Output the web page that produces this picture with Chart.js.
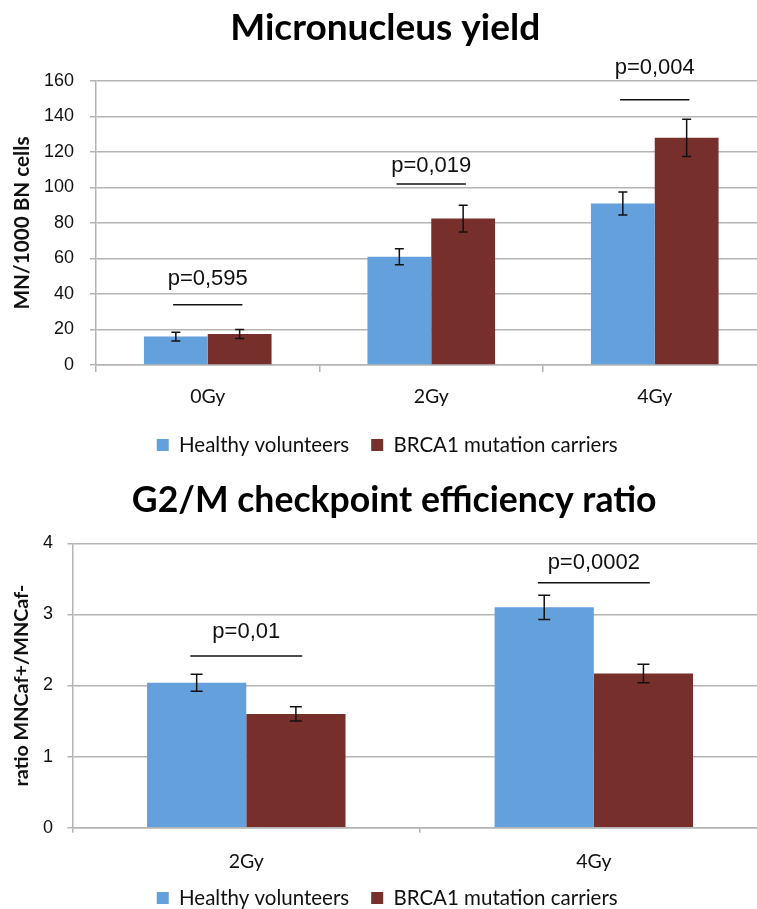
<!DOCTYPE html>
<html><head><meta charset="utf-8">
<script src="https://cdn.jsdelivr.net/npm/chart.js@4.4.0/dist/chart.umd.min.js"></script>
<style>
html,body{margin:0;padding:0;background:#fff;overflow:hidden;width:757px;height:909px;position:relative;}
#c1{position:absolute;left:0;top:0;}
#c2{position:absolute;left:0;top:470px;}
</style></head><body>
<canvas id="c1" width="770" height="470"></canvas>
<canvas id="c2" width="770" height="456"></canvas>
<script>
// ---- data ----
const seriesNames = ['Healthy volunteers', 'BRCA1 mutation carriers'];

const mnTitle = 'Micronucleus yield';
const mnAxisTitle = 'MN/1000 BN cells';
const mnCategories = ['0Gy', '2Gy', '4Gy'];
const mnHealthy = [16, 61, 91];
const mnHealthyErr = [2.5, 4.5, 6.5];
const mnBrca = [17.5, 82.5, 128];
const mnBrcaErr = [2.5, 7.5, 10.5];
const mnPLabels = ['p=0,595', 'p=0,019', 'p=0,004'];
const mnPLine = [34, 102, 149.5];
const mnPText = [45, 108.5, 164];
const mnTickMax = 160;
const mnTickStep = 20;

const g2Title = 'G2/M checkpoint efficiency ratio';
const g2AxisTitle = 'ratio MNCaf+/MNCaf-';
const g2Categories = ['2Gy', '4Gy'];
const g2Healthy = [2.04, 3.1];
const g2HealthyErr = [0.12, 0.17];
const g2Brca = [1.6, 2.17];
const g2BrcaErr = [0.1, 0.13];
const g2PLabels = ['p=0,01', 'p=0,0002'];
const g2PLine = [2.415, 3.446];
const g2PText = [2.664, 3.634];
const g2TickMax = 4;
const g2TickStep = 1;

const colors = ['#64a0dc', '#772f2c'];
const gridColor = '#b4b4b4';
const calibri = 'Lato, "Open Sans", sans-serif';
const arial = '"Liberation Sans", Arial, sans-serif';

const annotate = {
  id: 'annotate',
  afterDatasetsDraw(chart, args, opts) {
    const ctx = chart.ctx;
    const xs = chart.scales.x, ys = chart.scales.y;
    ctx.save();
    ctx.strokeStyle = '#111';
    ctx.lineWidth = 1.5;
    chart.data.datasets.forEach((ds, di) => {
      const meta = chart.getDatasetMeta(di);
      meta.data.forEach((bar, i) => {
        const v = ds.data[i], e = ds.errors[i];
        const yt = ys.getPixelForValue(v + e), yb = ys.getPixelForValue(v - e);
        ctx.beginPath();
        ctx.moveTo(bar.x, yt); ctx.lineTo(bar.x, yb);
        ctx.moveTo(bar.x - opts.cap, yt); ctx.lineTo(bar.x + opts.cap, yt);
        ctx.moveTo(bar.x - opts.cap, yb); ctx.lineTo(bar.x + opts.cap, yb);
        ctx.stroke();
      });
    });
    const catW = xs.width / chart.data.labels.length;
    ctx.fillStyle = '#111';
    ctx.font = opts.font;
    ctx.textAlign = 'center';
    ctx.textBaseline = 'alphabetic';
    opts.labels.forEach((t, i) => {
      const cx = xs.getPixelForValue(i);
      const ly = ys.getPixelForValue(opts.line[i]);
      const hw = opts.halfFrac * catW;
      ctx.beginPath();
      ctx.moveTo(cx - hw, ly); ctx.lineTo(cx + hw, ly);
      ctx.stroke();
      ctx.fillText(t, cx, ys.getPixelForValue(opts.text[i]));
    });
    ctx.restore();
  }
};

const boxShift = {
  id: 'boxShift',
  afterLayout(chart, args, opts) {
    if (chart.legend && opts.legendDy) {
      chart.legend.top += opts.legendDy;
      chart.legend.bottom += opts.legendDy;
    }
    if (chart.titleBlock && opts.titleDx) {
      chart.titleBlock.left += opts.titleDx;
      chart.titleBlock.right += opts.titleDx;
    }
  }
};

function makeChart(id, cfg) {
  return new Chart(document.getElementById(id), {
    type: 'bar',
    data: {
      labels: cfg.categories,
      datasets: [
        { label: seriesNames[0], data: cfg.healthy, errors: cfg.healthyErr, backgroundColor: colors[0],
          categoryPercentage: 0.571, barPercentage: 1.0 },
        { label: seriesNames[1], data: cfg.brca, errors: cfg.brcaErr, backgroundColor: colors[1],
          categoryPercentage: 0.571, barPercentage: 1.0 }
      ]
    },
    options: {
      responsive: false,
      animation: false,
      devicePixelRatio: 1,
      layout: { padding: cfg.pad },
      plugins: {
        title: { display: true, text: cfg.title, color: '#000',
          font: { family: calibri, weight: 'bold', size: cfg.titleSize, lineHeight: 1.2 },
          padding: cfg.titlePad },
        legend: { position: 'bottom',
          labels: { boxWidth: 12, boxHeight: 12, padding: 22, color: '#111',
            font: { family: calibri, size: 20.5, lineHeight: 1.2 } } },
        tooltip: { enabled: false },
        boxShift: { legendDy: cfg.legendDy, titleDx: cfg.titleDx },
        annotate: { labels: cfg.pLabels, line: cfg.pLine, text: cfg.pText, halfFrac: cfg.halfFrac,
          cap: cfg.cap, font: '22px "Liberation Sans", Arial, sans-serif' }
      },
      scales: {
        x: {
          offset: true,
          grid: { display: true, drawOnChartArea: false, drawTicks: true, tickLength: cfg.xTick,
            color: gridColor, lineWidth: 1.5 },
          border: { display: true, color: gridColor, width: 1.5 },
          ticks: { color: '#111', padding: cfg.xPad, font: { family: calibri, size: 19.5, lineHeight: 1.2 } },
          afterFit: (s) => { s.height = cfg.xHeight; }
        },
        y: {
          min: 0, max: cfg.tickMax,
          grid: { color: gridColor, lineWidth: 1.5, drawTicks: true, tickLength: cfg.yTick },
          border: { display: true, color: gridColor, width: 1.5 },
          ticks: { stepSize: cfg.tickStep, color: '#111', padding: cfg.yPad,
            font: { family: arial, size: 18, lineHeight: 1.2 } },
          title: { display: true, text: cfg.axisTitle, color: '#111',
            font: { family: calibri, weight: 'bold', size: cfg.yTitleSize, lineHeight: 1.2 },
            padding: { top: cfg.yTitlePad, bottom: 0 } },
          afterFit: (s) => { s.width = cfg.yWidth; }
        }
      }
    },
    plugins: [annotate, boxShift]
  });
}

makeChart('c1', {
  categories: mnCategories, healthy: mnHealthy, healthyErr: mnHealthyErr, brca: mnBrca, brcaErr: mnBrcaErr,
  pLabels: mnPLabels, pLine: mnPLine, pText: mnPText, tickMax: mnTickMax, tickStep: mnTickStep,
  title: mnTitle, axisTitle: mnAxisTitle, titleSize: 37, titlePad: { top: 6, bottom: 30.6 },
  pad: { left: 7.9, right: 3.5, top: 0, bottom: 4.75 },
  yWidth: 88.1, xHeight: 47.75, xTick: 7, xPad: 13.3, yTick: 6, yPad: 16, yTitlePad: 1.7, yTitleSize: 20.7,
  halfFrac: 0.155, cap: 4.5, legendDy: 0, titleDx: -2
});

makeChart('c2', {
  categories: g2Categories, healthy: g2Healthy, healthyErr: g2HealthyErr, brca: g2Brca, brcaErr: g2BrcaErr,
  pLabels: g2PLabels, pLine: g2PLine, pText: g2PText, tickMax: g2TickMax, tickStep: g2TickStep,
  title: g2Title, axisTitle: g2AxisTitle, titleSize: 35.6, titlePad: { top: 9.6, bottom: 21 },
  pad: { left: 6.8, right: 2.4, top: 0, bottom: 0.3 },
  yWidth: 65.7, xHeight: 45.5, xTick: 5, xPad: 17.1, yTick: 5, yPad: 14.5, yTitlePad: 3.2, yTitleSize: 19.8,
  halfFrac: 0.161, cap: 6, legendDy: -7.45, titleDx: 7
});
</script>
</body></html>
